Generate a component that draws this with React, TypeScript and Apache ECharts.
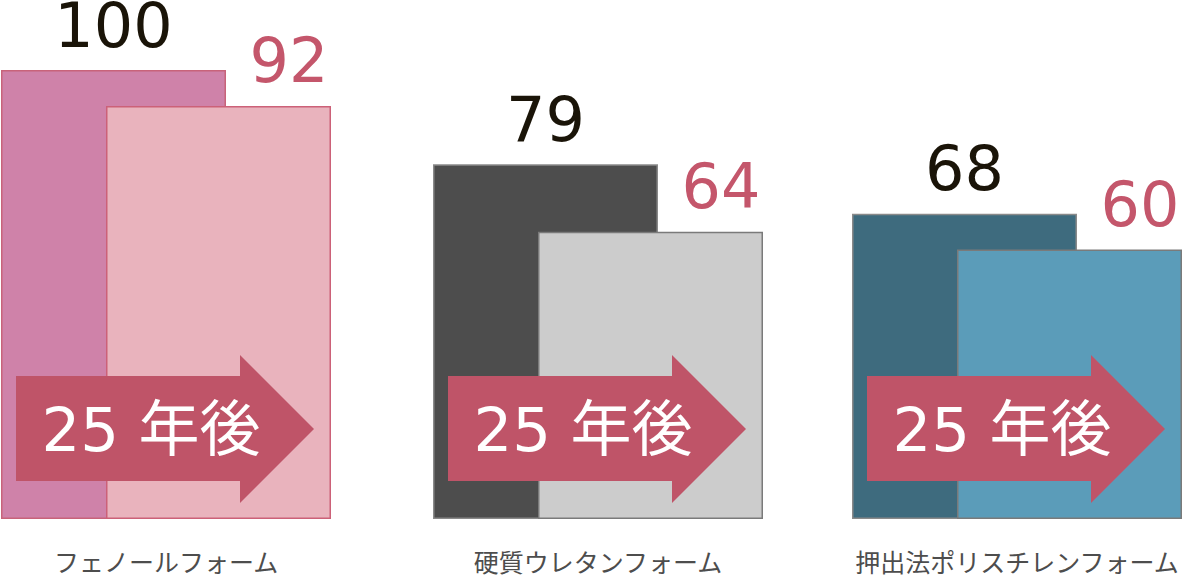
import { useEffect, useRef } from "react";
import * as echarts from "echarts";

const categories = ["フェノールフォーム", "硬質ウレタンフォーム", "押出法ポリスチレンフォーム"];
const initialValues = [100, 79, 68];
const after25Values = [92, 64, 60];
const arrowText = "25 年後";

const gridLefts = [1, 433, 852];
const backColors = ["#cf82a9", "#4d4d4d", "#3e6b7e"];
const backBorders = ["#c8637a", "#8a8a8a", "#8a8a8a"];
const frontColors = ["#e9b3bd", "#cccccc", "#5b9cb9"];
const frontBorders = ["#cc6178", "#7a7a7a", "#7a7a7a"];

const NUM_FONT = "'DejaVu Sans', 'Noto Sans CJK JP', sans-serif";
const JP_FONT = "'Noto Sans CJK JP', sans-serif";

export default function App() {
  const chartRef = useRef<HTMLDivElement | null>(null);

  useEffect(() => {
    if (!chartRef.current) {
      return;
    }
    document.body.style.margin = "0";

    const chart = echarts.init(chartRef.current, null, { renderer: "svg" });

    const grids = gridLefts.map((left) => ({
      left,
      width: 330,
      top: 70,
      height: 449,
    }));

    const xAxes = categories.map((name, i) => ({
      type: "category",
      gridIndex: i,
      data: [name],
      axisLine: { show: false },
      axisTick: { show: false },
      axisLabel: {
        margin: 29,
        color: "#4d4d4d",
        fontSize: 25,
        fontFamily: JP_FONT,
      },
    }));

    const yAxes = categories.map((_, i) => ({
      type: "value",
      gridIndex: i,
      min: 0,
      max: 100,
      show: false,
      splitLine: { show: false },
    }));

    const series: any[] = [];
    categories.forEach((_, i) => {
      series.push({
        type: "bar",
        name: "初期",
        xAxisIndex: i,
        yAxisIndex: i,
        barWidth: 225,
        barGap: "-53.33%",
        data: [initialValues[i]],
        itemStyle: {
          color: backColors[i],
          borderColor: backBorders[i],
          borderWidth: 1.5,
        },
        label: {
          show: true,
          position: "top",
          distance: 20,
          lineHeight: 50,
          color: "#1a1408",
          fontSize: 62,
          fontFamily: NUM_FONT,
        },
      });
      series.push({
        type: "bar",
        name: "25年後",
        xAxisIndex: i,
        yAxisIndex: i,
        barWidth: 225,
        barGap: "-53.33%",
        data: [after25Values[i]],
        itemStyle: {
          color: frontColors[i],
          borderColor: frontBorders[i],
          borderWidth: 1.5,
        },
        label: {
          show: true,
          position: "top",
          distance: 20,
          lineHeight: 50,
          align: "right",
          offset: [110, 0],
          color: "#c4566b",
          fontSize: 62,
          fontFamily: NUM_FONT,
        },
      });
    });

    // arrows with "25 年後" drawn over each pair of bars
    const arrows: any[] = [];
    gridLefts.forEach((left) => {
      const x0 = left + 15;
      arrows.push({
        type: "polygon",
        z: 100,
        shape: {
          points: [
            [x0, 376],
            [x0 + 224, 376],
            [x0 + 224, 355],
            [x0 + 298, 429],
            [x0 + 224, 503],
            [x0 + 224, 481],
            [x0, 481],
          ],
        },
        style: { fill: "#bf5468" },
      });
      arrows.push({
        type: "text",
        z: 101,
        x: x0 + 135,
        y: 429,
        style: {
          text: arrowText,
          fill: "#ffffff",
          fontSize: 61,
          fontFamily: NUM_FONT,
          align: "center",
          verticalAlign: "middle",
        },
      });
    });

    chart.setOption({
      animation: false,
      backgroundColor: "#ffffff",
      grid: grids,
      xAxis: xAxes,
      yAxis: yAxes,
      series,
      graphic: { elements: arrows },
    });

    return () => {
      chart.dispose();
    };
  }, []);

  return <div ref={chartRef} style={{ width: 1200, height: 578 }} />;
}
